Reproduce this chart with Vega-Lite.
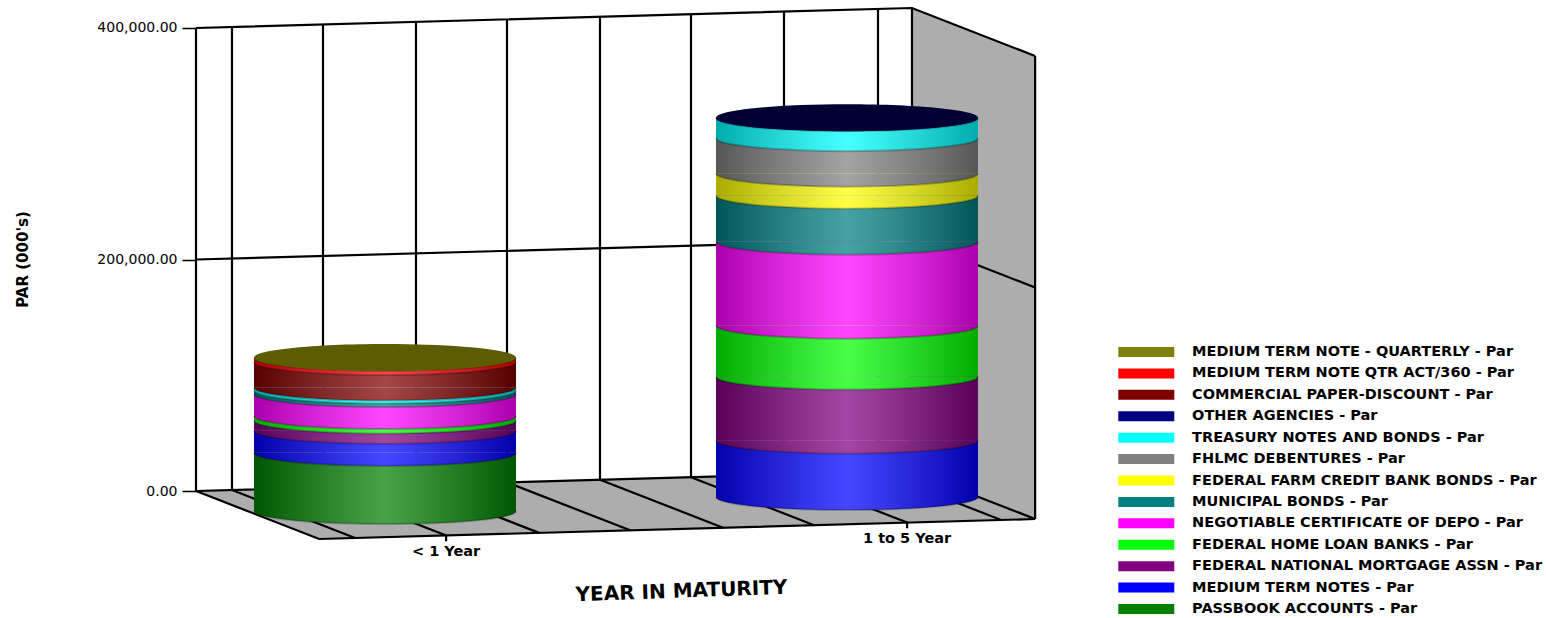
{"$schema":"https://vega.github.io/schema/vega-lite/v6.json","width":1546,"height":618,"padding":0,"autosize":"none","background":"white","config":{"view":{"stroke":null},"font":"DejaVu Sans"},
"datasets":{
"cyl":[
{"maturity":"< 1 Year","slot":1,"rank":1,"series":"PASSBOOK ACCOUNTS - Par","par":50300},
{"maturity":"< 1 Year","slot":1,"rank":2,"series":"MEDIUM TERM NOTES - Par","par":19000},
{"maturity":"< 1 Year","slot":1,"rank":3,"series":"FEDERAL NATIONAL MORTGAGE ASSN - Par","par":9000},
{"maturity":"< 1 Year","slot":1,"rank":4,"series":"FEDERAL HOME LOAN BANKS - Par","par":3900},
{"maturity":"< 1 Year","slot":1,"rank":5,"series":"NEGOTIABLE CERTIFICATE OF DEPO - Par","par":19000},
{"maturity":"< 1 Year","slot":1,"rank":6,"series":"MUNICIPAL BONDS - Par","par":3000},
{"maturity":"< 1 Year","slot":1,"rank":9,"series":"TREASURY NOTES AND BONDS - Par","par":2600},
{"maturity":"< 1 Year","slot":1,"rank":11,"series":"COMMERCIAL PAPER-DISCOUNT - Par","par":22000},
{"maturity":"< 1 Year","slot":1,"rank":12,"series":"MEDIUM TERM NOTE QTR ACT/360 - Par","par":3500},
{"maturity":"< 1 Year","slot":1,"rank":13,"series":"MEDIUM TERM NOTE - QUARTERLY - Par","par":300},
{"maturity":"1 to 5 Year","slot":2,"rank":2,"series":"MEDIUM TERM NOTES - Par","par":48800},
{"maturity":"1 to 5 Year","slot":2,"rank":3,"series":"FEDERAL NATIONAL MORTGAGE ASSN - Par","par":55300},
{"maturity":"1 to 5 Year","slot":2,"rank":4,"series":"FEDERAL HOME LOAN BANKS - Par","par":44000},
{"maturity":"1 to 5 Year","slot":2,"rank":5,"series":"NEGOTIABLE CERTIFICATE OF DEPO - Par","par":72600},
{"maturity":"1 to 5 Year","slot":2,"rank":6,"series":"MUNICIPAL BONDS - Par","par":39700},
{"maturity":"1 to 5 Year","slot":2,"rank":7,"series":"FEDERAL FARM CREDIT BANK BONDS - Par","par":19000},
{"maturity":"1 to 5 Year","slot":2,"rank":8,"series":"FHLMC DEBENTURES - Par","par":30700},
{"maturity":"1 to 5 Year","slot":2,"rank":9,"series":"TREASURY NOTES AND BONDS - Par","par":17300},
{"maturity":"1 to 5 Year","slot":2,"rank":10,"series":"OTHER AGENCIES - Par","par":300}],
"frame":[
{"l":"v0","s":0,"a":0.59091,"d":0,"p":0},{"l":"v0","s":1,"a":0.59091,"d":0,"p":400000},
{"l":"v1","s":0,"a":0.66883,"d":0,"p":0},{"l":"v1","s":1,"a":0.66883,"d":0,"p":400000},
{"l":"v2","s":0,"a":0.8658,"d":0,"p":0},{"l":"v2","s":1,"a":0.8658,"d":0,"p":400000},
{"l":"v3","s":0,"a":1.0671,"d":0,"p":0},{"l":"v3","s":1,"a":1.0671,"d":0,"p":400000},
{"l":"v4","s":0,"a":1.26407,"d":0,"p":0},{"l":"v4","s":1,"a":1.26407,"d":0,"p":400000},
{"l":"v5","s":0,"a":1.46537,"d":0,"p":0},{"l":"v5","s":1,"a":1.46537,"d":0,"p":400000},
{"l":"v6","s":0,"a":1.66234,"d":0,"p":0},{"l":"v6","s":1,"a":1.66234,"d":0,"p":400000},
{"l":"v7","s":0,"a":1.86364,"d":0,"p":0},{"l":"v7","s":1,"a":1.86364,"d":0,"p":400000},
{"l":"v8","s":0,"a":2.0671,"d":0,"p":0},{"l":"v8","s":1,"a":2.0671,"d":0,"p":400000},
{"l":"v9","s":0,"a":2.14069,"d":0,"p":0},{"l":"v9","s":1,"a":2.14069,"d":0,"p":400000},
{"l":"h0","s":0,"a":0.59091,"d":0,"p":0},{"l":"h0","s":1,"a":2.14069,"d":0,"p":0},{"l":"h0","s":2,"a":2.14069,"d":1,"p":0},
{"l":"h1","s":0,"a":0.59091,"d":0,"p":200000},{"l":"h1","s":1,"a":2.14069,"d":0,"p":200000},{"l":"h1","s":2,"a":2.14069,"d":1,"p":200000},
{"l":"h2","s":0,"a":0.59091,"d":0,"p":400000},{"l":"h2","s":1,"a":2.14069,"d":0,"p":400000},{"l":"h2","s":2,"a":2.14069,"d":1,"p":400000},
{"l":"r","s":0,"a":2.14069,"d":1,"p":0},{"l":"r","s":1,"a":2.14069,"d":1,"p":400000},
{"l":"f","s":0,"a":0.59091,"d":0,"p":0},{"l":"f","s":1,"a":0.59091,"d":1,"p":0},{"l":"f","s":2,"a":2.14069,"d":1,"p":0},
{"l":"s1","s":0,"a":0.66883,"d":0,"p":0},{"l":"s1","s":1,"a":0.66883,"d":1,"p":0},
{"l":"s2","s":0,"a":0.8658,"d":0,"p":0},{"l":"s2","s":1,"a":0.8658,"d":1,"p":0},{"l":"s2","s":2,"a":0.8658,"d":1,"p":-5000},
{"l":"s3","s":0,"a":1.0671,"d":0,"p":0},{"l":"s3","s":1,"a":1.0671,"d":1,"p":0},
{"l":"s4","s":0,"a":1.26407,"d":0,"p":0},{"l":"s4","s":1,"a":1.26407,"d":1,"p":0},
{"l":"s5","s":0,"a":1.46537,"d":0,"p":0},{"l":"s5","s":1,"a":1.46537,"d":1,"p":0},
{"l":"s6","s":0,"a":1.66234,"d":0,"p":0},{"l":"s6","s":1,"a":1.66234,"d":1,"p":0},
{"l":"s7","s":0,"a":1.86364,"d":0,"p":0},{"l":"s7","s":1,"a":1.86364,"d":1,"p":0},{"l":"s7","s":2,"a":1.86364,"d":1,"p":-5000},
{"l":"s8","s":0,"a":2.0671,"d":0,"p":0},{"l":"s8","s":1,"a":2.0671,"d":1,"p":0}],
"floor":[{"a":0.59091,"d":0,"pa":0,"pb":0},{"a":0.8574,"d":0,"pa":-41469,"pb":2970},{"a":2.14069,"d":0,"pa":-26400,"pb":17272},{"a":2.40719,"d":0,"pa":-24197,"pb":-24197}],
"wall":[{"a":2.14069,"d":0,"pa":17272,"pb":417272},{"a":2.40719,"d":0,"pa":-24197,"pb":375803}],
"labels":[{"maturity":"< 1 Year","a":0.8658,"p":-14000},{"maturity":"1 to 5 Year","a":1.86364,"p":-14000}]},
"encoding":{
"x":{"field":"X","type":"quantitative","scale":{"domain":[0.16667,3.51299],"nice":false,"zero":false},"axis":{"title":"YEAR IN MATURITY","labels":false,"ticks":false,"domain":false,"grid":false,"titleX":681,"titleY":-27,"titleAngle":-2,"titleAlign":"center","titleBaseline":"middle","titleFontSize":20,"titleFontWeight":"bold","titleFont":"DejaVu Sans","titleColor":"black"}},
"y":{"field":"Y","type":"quantitative","scale":{"domain":[-109719,424190],"nice":false,"zero":false},"axis":{"title":"PAR (000's)","values":[0,200000,400000],"format":",.2f","offset":-196,"grid":false,"domain":false,"tickSize":14,"tickWidth":1.5,"tickColor":"black","labelPadding":5,"labelFontSize":14,"labelFont":"DejaVu Sans","labelColor":"black","titleX":-174,"titleY":259,"titleAngle":-90,"titleAlign":"center","titleBaseline":"middle","titleFontSize":15,"titleFontWeight":"bold","titleFont":"DejaVu Sans","titleColor":"black"}}},
"layer":[
{"data":{"name":"floor"},"transform":[{"calculate":"datum.a","as":"X"},{"calculate":"datum.pa","as":"Y"},{"calculate":"datum.pb","as":"Y2"}],"mark":{"type":"area","color":"#adadad","opacity":1},"encoding":{"y2":{"field":"Y2"}}},
{"data":{"name":"wall"},"transform":[{"calculate":"datum.a","as":"X"},{"calculate":"datum.pa","as":"Y"},{"calculate":"datum.pb","as":"Y2"}],"mark":{"type":"area","color":"#adadad","opacity":1},"encoding":{"y2":{"field":"Y2"}}},
{"data":{"name":"frame"},"transform":[{"calculate":"datum.a+datum.d*0.2665","as":"X"},{"calculate":"datum.p+(datum.a-0.59091)*11145-41469*datum.d","as":"Y"}],"mark":{"type":"line","color":"black","strokeWidth":2.2},"encoding":{"detail":{"field":"l"},"order":{"field":"s","type":"quantitative"}}},
{"data":{"name":"cyl"},"transform":[{"stack":"par","groupby":["maturity"],"sort":[{"field":"rank","order":"ascending"}],"as":["low","high"]},{"calculate":"datum.low+(datum.slot==1?-17300:-5200)","as":"Ylow"},{"calculate":"datum.high+(datum.slot==1?-17300:-5200)","as":"Yhigh"}],
"layer":[
{"transform":[{"calculate":"datum.slot-0.2835","as":"X"},{"calculate":"datum.slot+0.2835","as":"X2"},{"calculate":"datum.Ylow","as":"Y"},{"calculate":"datum.Yhigh","as":"Y2"}],"mark":{"type":"rect"},"encoding":{"x2":{"field":"X2"},"y2":{"field":"Y2"},"color":{"field":"series","type":"nominal","scale":{"domain":["MEDIUM TERM NOTE - QUARTERLY - Par","MEDIUM TERM NOTE QTR ACT/360 - Par","COMMERCIAL PAPER-DISCOUNT - Par","OTHER AGENCIES - Par","TREASURY NOTES AND BONDS - Par","FHLMC DEBENTURES - Par","FEDERAL FARM CREDIT BANK BONDS - Par","MUNICIPAL BONDS - Par","NEGOTIABLE CERTIFICATE OF DEPO - Par","FEDERAL HOME LOAN BANKS - Par","FEDERAL NATIONAL MORTGAGE ASSN - Par","MEDIUM TERM NOTES - Par","PASSBOOK ACCOUNTS - Par"],"range":["#808000","#ff0000","#800000","#000080","#00ffff","#808080","#ffff00","#008080","#ff00ff","#00ff00","#800080","#0000ff","#008000"]},"legend":{"title":null,"orient":"none","legendX":1135.3,"legendY":341,"padding":0,"symbolType":"M-2.614,-0.467H2.614V0.467H-2.614Z","symbolSize":458.8,"symbolStrokeWidth":0,"symbolOpacity":1,"labelOffset":34.8,"rowPadding":3.42,"labelFontSize":14.5,"labelFontWeight":"bold","labelFont":"DejaVu Sans","labelColor":"black","labelLimit":500}}}},
{"transform":[{"calculate":"datum.slot","as":"X"},{"calculate":"datum.Ylow","as":"Y"}],"mark":{"type":"point","filled":true,"opacity":1,"size":68644,"strokeWidth":0,"shape":"M-1,0A1,0.1,0,0,0,1,0Z"},"encoding":{"color":{"field":"series","type":"nominal","legend":null},"order":{"field":"rank","type":"quantitative"}}},
{"transform":[{"aggregate":[{"op":"min","field":"Ylow","as":"Ybot"},{"op":"max","field":"Yhigh","as":"Ytop"}],"groupby":["slot"]},{"calculate":"datum.slot-0.2835","as":"X"},{"calculate":"datum.slot+0.2835","as":"X2"},{"calculate":"datum.Ybot","as":"Y"},{"calculate":"datum.Ytop","as":"Y2"}],"mark":{"type":"rect","fill":{"gradient":"linear","x1":0,"y1":0,"x2":1,"y2":0,"stops":[{"offset":0,"color":"rgba(0,0,0,0.33)"},{"offset":0.5,"color":"rgba(255,255,255,0.275)"},{"offset":1,"color":"rgba(0,0,0,0.33)"}]}},"encoding":{"x2":{"field":"X2"},"y2":{"field":"Y2"}}},
{"transform":[{"aggregate":[{"op":"min","field":"Ylow","as":"Ybot"},{"op":"max","field":"Yhigh","as":"Ytop"}],"groupby":["slot"]},{"calculate":"datum.slot","as":"X"},{"calculate":"datum.Ybot","as":"Y"}],"mark":{"type":"point","filled":true,"opacity":1,"size":68644,"strokeWidth":0,"shape":"M-1,0A1,0.1,0,0,0,1,0Z","fill":{"gradient":"linear","x1":0,"y1":0,"x2":1,"y2":0,"stops":[{"offset":0,"color":"rgba(0,0,0,0.33)"},{"offset":0.5,"color":"rgba(255,255,255,0.275)"},{"offset":1,"color":"rgba(0,0,0,0.33)"}]}}},
{"transform":[{"calculate":"datum.slot","as":"X"},{"calculate":"datum.Ylow","as":"Y"}],"mark":{"type":"point","filled":false,"opacity":1,"size":68644,"stroke":"black","strokeOpacity":0.22,"strokeWidth":2,"shape":"M-1,0A1,0.1,0,0,0,1,0"}},
{"transform":[{"aggregate":[{"op":"min","field":"Ylow","as":"Ybot"},{"op":"max","field":"Yhigh","as":"Ytop"}],"groupby":["slot"]},{"calculate":"datum.slot","as":"X"},{"calculate":"datum.Ytop","as":"Y"}],"mark":{"type":"point","filled":true,"opacity":1,"size":68644,"strokeWidth":0,"shape":"M-1,0A1,0.103,0,0,0,1,0A1,0.103,0,0,0,-1,0Z"},"encoding":{"fill":{"condition":{"test":"datum.slot==1","value":"#5c5c00"},"value":"#000033"}}}
]},
{"data":{"name":"labels"},"transform":[{"calculate":"datum.a+0.2665","as":"X"},{"calculate":"datum.p+(datum.a-0.59091)*11145-41469","as":"Y"}],"mark":{"type":"text","align":"center","baseline":"middle","fontSize":14.5,"fontWeight":"bold","font":"DejaVu Sans","color":"black"},"encoding":{"text":{"field":"maturity"}}}
]}
